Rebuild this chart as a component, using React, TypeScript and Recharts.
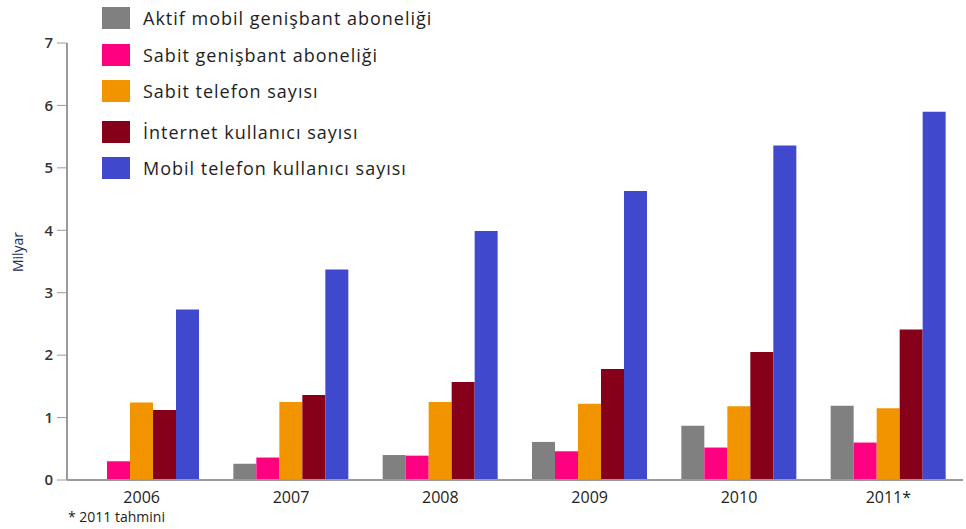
import React from 'react'
import { BarChart, Bar, XAxis, YAxis } from 'recharts'

const years = ['2006', '2007', '2008', '2009', '2010', '2011*']
const mobileBroadband = [0, 0.26, 0.4, 0.61, 0.87, 1.19]
const fixedBroadband = [0.3, 0.36, 0.39, 0.46, 0.52, 0.6]
const fixedPhones = [1.24, 1.25, 1.25, 1.22, 1.18, 1.15]
const internetUsers = [1.12, 1.36, 1.57, 1.78, 2.05, 2.41]
const mobileUsers = [2.73, 3.37, 3.99, 4.63, 5.36, 5.9]
const yTicks = [0, 1, 2, 3, 4, 5, 6, 7]

const series = [
  { key: 'mobileBroadband', name: 'Aktif mobil genişbant aboneliği', color: '#808080', values: mobileBroadband },
  { key: 'fixedBroadband', name: 'Sabit genişbant aboneliği', color: '#ff0080', values: fixedBroadband },
  { key: 'fixedPhones', name: 'Sabit telefon sayısı', color: '#f29400', values: fixedPhones },
  { key: 'internetUsers', name: 'İnternet kullanıcı sayısı', color: '#860019', values: internetUsers },
  { key: 'mobileUsers', name: 'Mobil telefon kullanıcı sayısı', color: '#4049cd', values: mobileUsers },
]

const data = years.map((year, i) => {
  const row: { [key: string]: any } = { year }
  series.forEach((s) => {
    row[s.key] = s.values[i]
  })
  return row
})

const font = '"Open Sans", "Noto Sans", sans-serif'

// legend rows are not evenly spaced in the original
const legendTops = [7, 44, 80, 121, 157]

// drawn as an overlay so recharts does not shrink the plot for it
const LegendBox = () => (
  <div style={{ position: 'absolute', left: 102, top: 0, width: 420, height: 190 }}>
    {series.map((s, i) => (
      <div
        key={s.key}
        style={{ position: 'absolute', left: 0, top: legendTops[i], display: 'flex', alignItems: 'center', height: 22 }}
      >
        <div style={{ width: 28, height: 22, background: s.color }} />
        <span
          style={{
            marginLeft: 13,
            fontSize: 18,
            letterSpacing: 1,
            color: '#1e1e1e',
            fontFamily: font,
            whiteSpace: 'nowrap',
          }}
        >
          {s.name}
        </span>
      </div>
    ))}
  </div>
)

const AxisTitle = () => (
  <text
    x={17}
    y={252}
    transform="rotate(-90 17 252)"
    textAnchor="middle"
    dominantBaseline="central"
    fontSize={14}
    fill="#1b2b5a"
    fontFamily={font}
  >
    Milyar
  </text>
)

export default function App() {
  return (
    <div style={{ position: 'absolute', left: 0, top: 0, width: 966, height: 529, background: '#fff', fontFamily: font }}>
      <BarChart
        width={966}
        height={529}
        data={data}
        margin={{ top: 43, right: 3, left: 0, bottom: 0 }}
        barCategoryGap={17}
        barGap={0}
      >
        <XAxis
          dataKey="year"
          height={49}
          tickLine={false}
          axisLine={{ stroke: '#9a9a9a', strokeWidth: 2 }}
          tick={{ fontSize: 16, fill: '#222', fontFamily: font }}
          tickMargin={6}
        />
        <YAxis
          width={67}
          domain={[0, 7]}
          ticks={yTicks}
          interval={0}
          tickSize={10}
          tickLine={{ stroke: '#9a9a9a' }}
          axisLine={{ stroke: '#9a9a9a', strokeWidth: 2 }}
          tick={{ fontSize: 15, fill: '#333', fontFamily: font, fontWeight: 600 }}
          tickMargin={4}
          label={{ content: () => <AxisTitle /> }}
        />
        {series.map((s) => (
          <Bar key={s.key} dataKey={s.key} name={s.name} fill={s.color} isAnimationActive={false} />
        ))}
      </BarChart>
      <LegendBox />
      <div style={{ position: 'absolute', left: 68, top: 507, fontSize: 14, color: '#222', fontFamily: font }}>
        * 2011 tahmini
      </div>
    </div>
  )
}
